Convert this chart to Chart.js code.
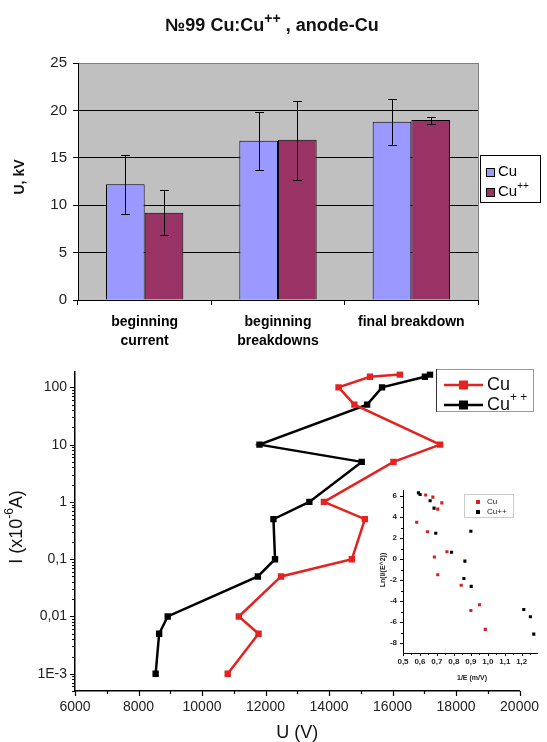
<!DOCTYPE html>
<html lang="en">
<head>
<meta charset="UTF-8">
<title>№99 Cu:Cu++ , anode-Cu</title>
<style>
  html, body { margin: 0; padding: 0; background: #fff; }
  #wrap { position: relative; width: 547px; height: 742px; overflow: hidden; }
  canvas { position: absolute; }
  #bars { left: 0; top: 0; }
  #iv { left: 0; top: 355px; }
  #fn { left: 360px; top: 480px; }
</style>
<script src="https://cdn.jsdelivr.net/npm/chart.js@4.4.0/dist/chart.umd.min.js"></script>
</head>
<body>
<div id="wrap">
  <canvas id="bars" width="547" height="355"></canvas>
  <canvas id="iv" width="547" height="387"></canvas>
  <canvas id="fn" width="187" height="205"></canvas>
</div>
<script>
// top: breakdown voltages, kV
const stages = [['beginning', 'current'], ['beginning', 'breakdowns'], ['final breakdown']];
const cuMean = [12.2, 16.8, 18.8];
const cuLow = [9.1, 13.7, 16.3];
const cuHigh = [15.3, 19.8, 21.2];
const cu2Mean = [9.2, 16.9, 19.0];
const cu2Low = [6.9, 12.7, 18.6];
const cu2High = [11.6, 21.0, 19.3];
const voltTicks = [0, 5, 10, 15, 20, 25];

// bottom: I-U curves
const currentI = [168, 153, 100, 50, 10, 5, 1, 0.5, 0.1, 0.05, 0.01, 0.005, 0.001];
const cuU = [16230, 15290, 14300, 14800, 17500, 16030, 13840, 15130, 14720, 12490, 11160, 11780, 10810];
const cu2U = [17180, 17020, 15670, 15200, 11810, 15030, 13380, 12250, 12300, 11760, 8920, 8650, 8540];
const uTicks = [6000, 8000, 10000, 12000, 14000, 16000, 18000, 20000];
const iTicks = [0.001, 0.01, 0.1, 1, 10, 100];
const iTickLabels = ['1E-3', '0,01', '0,1', '1', '10', '100'];

// inset: Fowler-Nordheim plot
const cuInvE = [0.581, 0.634, 0.676, 0.705, 0.729, 0.644, 0.685, 0.759, 0.705, 0.843, 0.900, 0.951, 0.985];
const cuLnJ = [3.5, 6.1, 5.9, 4.75, 5.35, 2.6, 0.2, 0.7, -1.5, -2.5, -4.9, -4.35, -6.7];
const cu2InvE = [0.591, 0.601, 0.660, 0.683, 0.693, 0.786, 0.865, 0.859, 0.902, 0.900, 1.212, 1.251, 1.271];
const cu2LnJ = [6.3, 6.15, 5.55, 4.85, 2.45, 0.65, -0.2, -1.85, -2.6, 2.65, -4.8, -5.5, -7.15];
const invETicks = [0.5, 0.6, 0.7, 0.8, 0.9, 1.0, 1.1, 1.2];
const lnTicks = [-8, -6, -4, -2, 0, 2, 4, 6];

const FONT = '"Liberation Sans", Arial, sans-serif';
Chart.defaults.font.family = FONT;

const red = '#e32222';
const black = '#000';

// text with superscript parts: [{t:'Cu'},{t:'++',sup:true}]
function richText(ctx, parts, x, y, size, weight, align, supScale) {
  const supSize = Math.round(size * (supScale || 0.68));
  let w = 0;
  parts.forEach(p => {
    ctx.font = weight + ' ' + (p.sup ? supSize : size) + 'px ' + FONT;
    p.w = ctx.measureText(p.t).width;
    w += p.w;
  });
  let cx = align === 'center' ? x - w / 2 : (align === 'right' ? x - w : x);
  ctx.textAlign = 'left';
  ctx.textBaseline = 'middle';
  parts.forEach(p => {
    ctx.font = weight + ' ' + (p.sup ? supSize : size) + 'px ' + FONT;
    ctx.fillText(p.t, cx, p.sup ? y - size * 0.38 : y);
    cx += p.w;
  });
}

function inRange(s, v) {
  return v >= s.min - 1e-9 && v <= s.max + 1e-9;
}

// tick marks drawn on the outside of the axes, major and minor
const tickMarks = {
  id: 'tickMarks',
  afterDraw(chart, args, o) {
    const ctx = chart.ctx;
    const xs = chart.scales.x, ys = chart.scales.y;
    ctx.save();
    ctx.strokeStyle = '#000';
    ctx.lineWidth = o.width;
    ctx.beginPath();
    o.xMajor.filter(v => inRange(xs, v)).forEach(v => {
      const p = Math.round(xs.getPixelForValue(v)) + 0.5;
      ctx.moveTo(p, xs.top); ctx.lineTo(p, xs.top + o.majorLen);
    });
    o.xMinor.filter(v => inRange(xs, v)).forEach(v => {
      const p = Math.round(xs.getPixelForValue(v)) + 0.5;
      ctx.moveTo(p, xs.top); ctx.lineTo(p, xs.top + o.minorLen);
    });
    o.yMajor.filter(v => inRange(ys, v)).forEach(v => {
      const p = Math.round(ys.getPixelForValue(v)) + 0.5;
      ctx.moveTo(ys.right, p); ctx.lineTo(ys.right - o.majorLen, p);
    });
    o.yMinor.filter(v => inRange(ys, v)).forEach(v => {
      const p = Math.round(ys.getPixelForValue(v)) + 0.5;
      ctx.moveTo(ys.right, p); ctx.lineTo(ys.right - o.minorLen, p);
    });
    ctx.stroke();
    ctx.restore();
  }
};

// ---------- bar chart ----------
const barDecor = {
  id: 'barDecor',
  beforeDraw(chart) {
    const a = chart.chartArea, ctx = chart.ctx;
    ctx.save();
    ctx.fillStyle = '#c0c0c0';
    ctx.fillRect(a.left, a.top, a.right - a.left, a.bottom - a.top);
    ctx.restore();
  },
  afterDatasetsDraw(chart) {
    const ctx = chart.ctx, ys = chart.scales.y;
    const lows = [cuLow, cu2Low], highs = [cuHigh, cu2High];
    ctx.save();
    ctx.strokeStyle = '#000';
    ctx.lineWidth = 1;
    chart.data.datasets.forEach((ds, i) => {
      chart.getDatasetMeta(i).data.forEach((bar, j) => {
        const x = Math.round(bar.x) + 0.5;
        const y1 = Math.round(ys.getPixelForValue(highs[i][j])) + 0.5;
        const y2 = Math.round(ys.getPixelForValue(lows[i][j])) + 0.5;
        ctx.beginPath();
        ctx.moveTo(x, y1); ctx.lineTo(x, y2);
        ctx.moveTo(x - 4.5, y1); ctx.lineTo(x + 4.5, y1);
        ctx.moveTo(x - 4.5, y2); ctx.lineTo(x + 4.5, y2);
        ctx.stroke();
      });
    });
    ctx.restore();
  },
  afterDraw(chart) {
    const ctx = chart.ctx, a = chart.chartArea;
    ctx.save();
    ctx.strokeStyle = '#808080';
    ctx.lineWidth = 1;
    ctx.beginPath();
    ctx.moveTo(Math.round(a.right) + 0.5, a.top);
    ctx.lineTo(Math.round(a.right) + 0.5, a.bottom);
    ctx.stroke();

    ctx.fillStyle = '#111';
    richText(ctx, [{t: '№99 Cu:Cu'}, {t: '++', sup: true}, {t: ' , anode-Cu'}], 272, 26, 18, 'bold', 'center', 0.75);

    ctx.save();
    ctx.translate(20, 177);
    ctx.rotate(-Math.PI / 2);
    ctx.font = 'bold 14px ' + FONT;
    ctx.textAlign = 'center';
    ctx.textBaseline = 'middle';
    ctx.fillText('U, kV', 0, 0);
    ctx.restore();

    // legend
    ctx.fillStyle = '#fff';
    ctx.fillRect(480, 155, 61, 48);
    ctx.strokeStyle = '#000';
    ctx.strokeRect(480.5, 155.5, 60, 47);
    chart.data.datasets.forEach((ds, i) => {
      const y = 172 + i * 20;
      ctx.fillStyle = ds.backgroundColor;
      ctx.fillRect(486, y - 4, 9, 9);
      ctx.strokeStyle = '#000';
      ctx.strokeRect(486.5, y - 3.5, 8, 8);
      ctx.fillStyle = '#000';
      const parts = i === 0 ? [{t: 'Cu'}] : [{t: 'Cu'}, {t: '++', sup: true}];
      richText(ctx, parts, 498, y, 15, 'normal', 'left');
    });
    ctx.restore();
  }
};

new Chart(document.getElementById('bars'), {
  type: 'bar',
  data: {
    labels: stages,
    datasets: [
      { label: 'Cu', data: cuMean, backgroundColor: '#9999ff', borderColor: '#000', borderWidth: 1 },
      { label: 'Cu++', data: cu2Mean, backgroundColor: '#993366', borderColor: '#000', borderWidth: 1 }
    ]
  },
  options: {
    responsive: false,
    animation: false,
    categoryPercentage: 0.58,
    barPercentage: 1.0,
    layout: { padding: { top: 63, right: 69, left: 0, bottom: 0 } },
    plugins: { legend: { display: false }, tooltip: { enabled: false } },
    scales: {
      x: {
        grid: { offset: true, drawOnChartArea: false, tickLength: 5, color: '#000' },
        border: { color: '#000' },
        ticks: { color: '#000', padding: 8, font: { size: 14, weight: 'bold', lineHeight: 1.35 } },
        afterFit: s => { s.height = 55; }
      },
      y: {
        min: 0, max: 25,
        afterBuildTicks: s => { s.ticks = voltTicks.map(v => ({ value: v })); },
        grid: {
          color: c => (c.tick && c.tick.value === 25 ? '#808080' : '#000'),
          tickColor: '#000', tickLength: 5
        },
        border: { color: '#000' },
        ticks: { color: '#222', padding: 6, font: { size: 15 } },
        afterFit: s => { s.width = 78; }
      }
    }
  },
  plugins: [barDecor]
});

// ---------- I-U chart ----------
function minorLog(lo, hi) {
  const out = [];
  for (let e = -4; e <= 2; e++) {
    for (let m = 2; m <= 9; m++) {
      const v = m * Math.pow(10, e);
      if (v >= lo && v <= hi) out.push(v);
    }
  }
  return out;
}

const ivDecor = {
  id: 'ivDecor',
  afterDraw(chart) {
    const ctx = chart.ctx, a = chart.chartArea;
    ctx.save();
    ctx.fillStyle = '#111';
    ctx.font = '18px ' + FONT;
    ctx.textAlign = 'center';
    ctx.textBaseline = 'middle';
    ctx.fillText('U (V)', (a.left + a.right) / 2, 378);

    ctx.save();
    ctx.translate(17, 172);
    ctx.rotate(-Math.PI / 2);
    richText(ctx, [{t: 'I (x10'}, {t: '-6', sup: true}, {t: 'A)'}], 0, 0, 18, 'normal', 'center');
    ctx.restore();

    // legend
    ctx.fillStyle = '#fff';
    ctx.fillRect(436, 14, 98, 43);
    ctx.strokeStyle = '#999';
    ctx.lineWidth = 1;
    ctx.strokeRect(436.5, 14.5, 97, 42);
    ctx.strokeStyle = '#333';
    ctx.beginPath();
    ctx.moveTo(436.5, 14); ctx.lineTo(436.5, 57);
    ctx.stroke();
    chart.data.datasets.forEach((ds, i) => {
      const y = 30 + i * 20;
      ctx.strokeStyle = ds.borderColor;
      ctx.lineWidth = 2.5;
      ctx.beginPath();
      ctx.moveTo(444, y); ctx.lineTo(483, y);
      ctx.stroke();
      ctx.fillStyle = ds.borderColor;
      ctx.fillRect(459, y - 4.5, 9, 9);
      ctx.fillStyle = '#111';
      const parts = i === 0 ? [{t: 'Cu'}] : [{t: 'Cu'}, {t: '+ +', sup: true}];
      richText(ctx, parts, 487, y, 18, 'normal', 'left');
    });
    ctx.restore();
  }
};

new Chart(document.getElementById('iv'), {
  type: 'scatter',
  data: {
    datasets: [
      {
        label: 'Cu',
        data: cuU.map((u, k) => ({ x: u, y: currentI[k] })),
        showLine: true, borderColor: red, backgroundColor: red, borderWidth: 2.5,
        pointStyle: 'rect', pointRadius: 4.5, pointBorderWidth: 0, pointBackgroundColor: red
      },
      {
        label: 'Cu++',
        data: cu2U.map((u, k) => ({ x: u, y: currentI[k] })),
        showLine: true, borderColor: black, backgroundColor: black, borderWidth: 2.5,
        pointStyle: 'rect', pointRadius: 4.5, pointBorderWidth: 0, pointBackgroundColor: black
      }
    ]
  },
  options: {
    responsive: false,
    animation: false,
    layout: { padding: { top: 7, right: 24, left: 0, bottom: 0 } },
    plugins: {
      legend: { display: false }, tooltip: { enabled: false },
      tickMarks: {
        width: 1.2, majorLen: 5, minorLen: 3,
        xMajor: uTicks, xMinor: [7000, 9000, 11000, 13000, 15000, 17000, 19000],
        yMajor: iTicks, yMinor: minorLog(5e-4, 190)
      }
    },
    scales: {
      x: {
        type: 'linear', min: 6000, max: 20000,
        afterBuildTicks: s => { s.ticks = uTicks.map(v => ({ value: v })); },
        grid: { drawOnChartArea: false, drawTicks: false },
        border: { color: '#000', width: 1.5 },
        ticks: { color: '#222', padding: 8, font: { size: 14 }, callback: v => String(v) },
        afterFit: s => { s.height = 51; }
      },
      y: {
        type: 'logarithmic', min: 5e-4, max: 190,
        afterBuildTicks: s => { s.ticks = iTicks.map(v => ({ value: v })); },
        grid: { drawOnChartArea: false, drawTicks: false },
        border: { color: '#000', width: 1.5 },
        ticks: { color: '#222', padding: 8, autoSkip: false, font: { size: 14 },
          callback: (v, k) => iTickLabels[k] },
        afterFit: s => { s.width = 75; }
      }
    }
  },
  plugins: [tickMarks, ivDecor]
});

// ---------- inset ----------
const fnDecor = {
  id: 'fnDecor',
  afterDraw(chart) {
    const ctx = chart.ctx, a = chart.chartArea;
    ctx.save();
    ctx.fillStyle = '#222';
    ctx.font = 'bold 7px ' + FONT;
    ctx.textAlign = 'center';
    ctx.textBaseline = 'middle';
    ctx.fillText('1/E (m/V)', (a.left + a.right) / 2 + 2, 198);
    ctx.save();
    ctx.translate(23, 90);
    ctx.rotate(-Math.PI / 2);
    ctx.fillText('Ln(I/(E^2))', 0, 0);
    ctx.restore();

    ctx.fillStyle = '#fff';
    ctx.fillRect(104, 14, 50, 24);
    ctx.strokeStyle = '#ccc';
    ctx.lineWidth = 1;
    ctx.strokeRect(104.5, 14.5, 49, 23);
    chart.data.datasets.forEach((ds, i) => {
      const y = 22 + i * 10;
      ctx.fillStyle = ds.backgroundColor;
      ctx.fillRect(116, y - 2, 4, 4);
      ctx.fillStyle = '#222';
      ctx.font = '8px ' + FONT;
      ctx.textAlign = 'left';
      ctx.fillText(ds.label, 127, y);
    });
    ctx.restore();
  }
};

new Chart(document.getElementById('fn'), {
  type: 'scatter',
  data: {
    datasets: [
      {
        label: 'Cu',
        data: cuInvE.map((x, k) => ({ x: x, y: cuLnJ[k] })),
        backgroundColor: '#d42020', borderWidth: 0, pointStyle: 'rect', pointRadius: 2.2
      },
      {
        label: 'Cu++',
        data: cu2InvE.map((x, k) => ({ x: x, y: cu2LnJ[k] })),
        backgroundColor: '#000', borderWidth: 0, pointStyle: 'rect', pointRadius: 2.2
      }
    ]
  },
  options: {
    responsive: false,
    animation: false,
    layout: { padding: { top: 7, right: 10, left: 0, bottom: 0 } },
    plugins: {
      legend: { display: false }, tooltip: { enabled: false },
      tickMarks: {
        width: 1, majorLen: 3, minorLen: 2,
        xMajor: invETicks, xMinor: [0.55, 0.65, 0.75, 0.85, 0.95, 1.05, 1.15, 1.25],
        yMajor: lnTicks, yMinor: [-7, -5, -3, -1, 1, 3, 5]
      }
    },
    scales: {
      x: {
        type: 'linear', min: 0.5, max: 1.29,
        afterBuildTicks: s => { s.ticks = invETicks.map(v => ({ value: v })); },
        grid: { drawOnChartArea: false, drawTicks: false },
        border: { color: '#000', width: 1 },
        ticks: { color: '#222', padding: 4, autoSkip: false, font: { size: 8, weight: 'bold' },
          callback: v => v.toFixed(1).replace('.', ',') },
        afterFit: s => { s.height = 32; }
      },
      y: {
        type: 'linear', min: -8.95, max: 6.5,
        afterBuildTicks: s => { s.ticks = lnTicks.map(v => ({ value: v })); },
        grid: { drawOnChartArea: false, drawTicks: false },
        border: { color: '#000', width: 1 },
        ticks: { color: '#222', padding: 6, autoSkip: false, font: { size: 8, weight: 'bold' },
          callback: v => String(v) },
        afterFit: s => { s.width = 43; }
      }
    }
  },
  plugins: [tickMarks, fnDecor]
});
</script>
</body>
</html>
